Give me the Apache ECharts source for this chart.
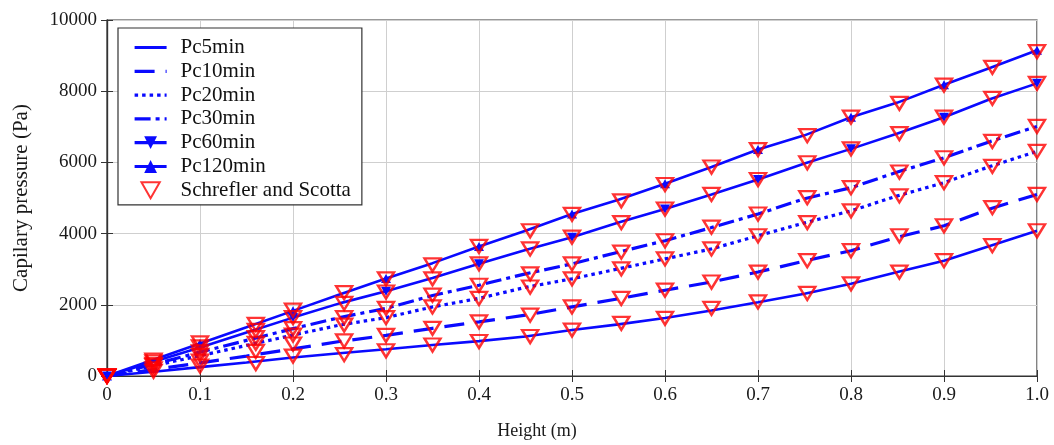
<!DOCTYPE html>
<html>
<head>
<meta charset="utf-8">
<script src="https://cdn.jsdelivr.net/npm/echarts@6/dist/echarts.min.js"></script>
<style>
  html, body { margin: 0; padding: 0; background: #fff; }
  #chart { width: 1054px; height: 445px; }
</style>
</head>
<body>
<div id="chart"></div>
<script>
// Height positions of the model curves (m)
const heights = [0, 0.05, 0.1, 0.15, 0.2, 0.25, 0.3, 0.35, 0.4, 0.45, 0.5,
                 0.55, 0.6, 0.65, 0.7, 0.75, 0.8, 0.85, 0.9, 0.95, 1.0];

// Capillary pressure curves (Pa) at different times
const pc5min   = [0, 120, 250, 380, 520, 640, 750, 870, 980, 1110, 1290,
                  1450, 1630, 1840, 2070, 2310, 2590, 2920, 3240, 3660, 4080];
const pc10min  = [0, 180, 370, 560, 760, 970, 1140, 1340, 1520, 1710, 1940,
                  2170, 2410, 2640, 2920, 3230, 3520, 3900, 4220, 4700, 5100];
const pc20min  = [0, 290, 570, 860, 1150, 1430, 1640, 1940, 2180, 2490, 2730,
                  3010, 3290, 3570, 3940, 4300, 4640, 5060, 5430, 5890, 6310];
const pc30min  = [0, 330, 670, 1000, 1330, 1640, 1900, 2260, 2550, 2870, 3150,
                  3480, 3800, 4170, 4550, 4980, 5290, 5730, 6130, 6590, 7010];
const pc60min  = [0, 400, 800, 1220, 1640, 2040, 2380, 2750, 3150, 3540, 3900,
                  4310, 4690, 5100, 5520, 5970, 6380, 6810, 7270, 7780, 8220];
const pc120min = [0, 455, 915, 1370, 1830, 2290, 2740, 3170, 3640, 4080, 4550,
                  4950, 5400, 5870, 6360, 6760, 7270, 7680, 8180, 8660, 9150];

// Reference solution (Schrefler and Scotta) sample heights and pressures
const refHeights = [0, 0.05, 0.1, 0.16, 0.2, 0.255, 0.3, 0.35, 0.4, 0.455, 0.5,
                    0.553, 0.6, 0.65, 0.7, 0.753, 0.8, 0.852, 0.9, 0.952, 1.0];
const ref5   = [0, 130, 280, 350, 560, 600, 710, 870, 970, 1110, 1290,
                1480, 1620, 1900, 2080, 2320, 2590, 2920, 3240, 3660, 4080];
const ref10  = [0, 200, 420, 690, 900, 985, 1140, 1340, 1520, 1710, 1940,
                2180, 2410, 2640, 2920, 3240, 3520, 3940, 4220, 4730, 5100];
const ref20  = [0, 290, 580, 920, 1150, 1430, 1640, 1940, 2180, 2500, 2730,
                3010, 3290, 3570, 3940, 4310, 4640, 5060, 5430, 5890, 6310];
const ref30  = [0, 330, 680, 1080, 1330, 1640, 1900, 2270, 2550, 2870, 3150,
                3480, 3800, 4180, 4550, 5010, 5290, 5730, 6130, 6590, 7010];
const ref60  = [0, 400, 820, 1280, 1640, 2040, 2360, 2730, 3150, 3570, 3900,
                4310, 4690, 5100, 5520, 5990, 6380, 6810, 7270, 7800, 8220];
const ref120 = [0, 450, 930, 1450, 1850, 2340, 2730, 3120, 3640, 4080, 4540,
                4920, 5380, 5870, 6360, 6750, 7270, 7660, 8170, 8670, 9110];

const xTicks = { min: 0, max: 1, interval: 0.1 };
const yTicks = { min: 0, max: 10000, interval: 2000 };

const BLUE = '#0a0aff';
const RED = '#ff0000';
const FONT = '"Liberation Serif", "DejaVu Serif", serif';

function pairs(xs, ys) {
  return xs.map((x, i) => [x, ys[i]]);
}
// marker only on every 0.1 m (even indices)
function pairsEveryOther(xs, ys) {
  return xs.map((x, i) => i % 2 === 0 ? { value: [x, ys[i]] } : { value: [x, ys[i]], symbol: 'none' });
}

function lineSeries(name, ys, type, width) {
  return {
    name, type: 'line', data: pairs(heights, ys),
    symbol: 'none', smooth: false, z: 3,
    lineStyle: { color: BLUE, width: width, type: type },
    itemStyle: { color: BLUE }
  };
}

const refData = []
  .concat(pairs(refHeights, ref5), pairs(refHeights, ref10), pairs(refHeights, ref20),
          pairs(refHeights, ref30), pairs(refHeights, ref60), pairs(refHeights, ref120));

const chart = echarts.init(document.getElementById('chart'), null, { renderer: 'canvas' });

const axisText = { fontFamily: FONT, fontSize: 19, color: '#1a1a1a' };
const plainLine = { itemStyle: { opacity: 0 } };

chart.setOption({
  animation: false,
  backgroundColor: '#fff',
  textStyle: { fontFamily: FONT },
  grid: { left: 107, right: 17, top: 20, bottom: 67, show: true, borderColor: '#333', borderWidth: 1.2, backgroundColor: 'transparent' },
  legend: {
    orient: 'vertical', left: 118, top: 28,
    backgroundColor: '#fff', borderColor: '#333', borderWidth: 1.2,
    padding: [9, 11, 4, 15],
    itemWidth: 32, itemHeight: 16, itemGap: 2.8,
    lineStyle: { width: 3.2 },
    textStyle: { fontFamily: FONT, fontSize: 21, color: '#111', padding: [0, 0, 0, 9] },
    data: [
      Object.assign({ name: 'Pc5min' }, plainLine),
      Object.assign({ name: 'Pc10min' }, plainLine),
      Object.assign({ name: 'Pc20min' }, plainLine),
      Object.assign({ name: 'Pc30min' }, plainLine),
      { name: 'Pc60min' },
      { name: 'Pc120min' },
      { name: 'Schrefler and Scotta', icon: 'path://M0,0L16,0L8,14Z' }
    ]
  },
  xAxis: [{
    type: 'value', min: xTicks.min, max: xTicks.max, interval: xTicks.interval,
    name: 'Height (m)', nameLocation: 'middle', nameGap: 46,
    nameTextStyle: { fontFamily: FONT, fontSize: 18, color: '#1a1a1a', padding: [0, 70, 0, 0] },
    axisLine: { show: true, onZero: false, lineStyle: { color: '#333', width: 1.2 } },
    axisTick: { show: true, inside: true, length: 6, lineStyle: { color: '#333' } },
    axisLabel: Object.assign({ margin: 10, formatter: v => v === 0 ? '0' : v.toFixed(1) }, axisText),
    splitLine: { show: true, lineStyle: { color: '#cfcfcf', width: 1 } }
  }, {
    type: 'value', position: 'top', min: xTicks.min, max: xTicks.max, interval: xTicks.interval,
    axisLine: { show: true, lineStyle: { color: '#333', width: 1.2 } },
    axisTick: { show: true, inside: true, length: 6, lineStyle: { color: '#333' } },
    axisLabel: { show: false }, splitLine: { show: false }
  }],
  yAxis: [{
    type: 'value', min: yTicks.min, max: yTicks.max, interval: yTicks.interval,
    name: 'Capilary pressure (Pa)', nameLocation: 'middle', nameGap: 75,
    nameTextStyle: { fontFamily: FONT, fontSize: 21, color: '#1a1a1a' },
    axisLine: { show: true, lineStyle: { color: '#333', width: 1.2 } },
    axisTick: { show: true, inside: true, length: 6, lineStyle: { color: '#333' } },
    axisLabel: Object.assign({ margin: 10, formatter: v => String(v) }, axisText),
    splitLine: { show: true, lineStyle: { color: '#cfcfcf', width: 1 } }
  }, {
    type: 'value', position: 'right', min: yTicks.min, max: yTicks.max, interval: yTicks.interval,
    axisLine: { show: true, lineStyle: { color: '#333', width: 1.2 } },
    axisTick: { show: true, inside: true, length: 6, lineStyle: { color: '#333' } },
    axisLabel: { show: false }, splitLine: { show: false }
  }],
  series: [
    lineSeries('Pc5min', pc5min, 'solid', 2.6),
    lineSeries('Pc10min', pc10min, [20, 11], 3.2),
    lineSeries('Pc20min', pc20min, [3.5, 4], 3.2),
    lineSeries('Pc30min', pc30min, [16, 5, 4, 5], 3.2),
    {
      name: 'Pc60min', type: 'line', data: pairsEveryOther(heights, pc60min),
      symbol: 'triangle', symbolRotate: 180, symbolSize: [10, 9], z: 4,
      lineStyle: { color: BLUE, width: 2.6 }, itemStyle: { color: BLUE }
    },
    {
      name: 'Pc120min', type: 'line', data: pairsEveryOther(heights, pc120min),
      symbol: 'triangle', symbolSize: [10, 9], z: 4,
      lineStyle: { color: BLUE, width: 2.6 }, itemStyle: { color: BLUE }
    },
    {
      name: 'Schrefler and Scotta', type: 'scatter', data: refData,
      symbol: 'triangle', symbolRotate: 180, symbolSize: [16, 13], z: 5,
      itemStyle: { color: 'rgba(0,0,0,0)', borderColor: RED, borderWidth: 2.4 }
    }
  ]
});
</script>
</body>
</html>
